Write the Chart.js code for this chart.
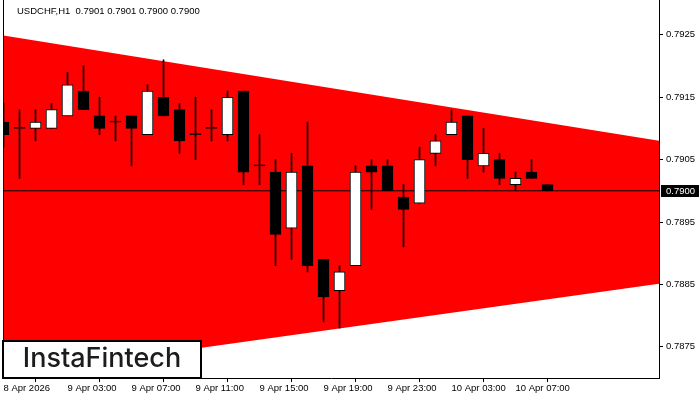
<!DOCTYPE html>
<html>
<head>
<meta charset="utf-8">
<script src="https://cdn.jsdelivr.net/npm/chart.js@4"></script>
<style>
  html, body { margin: 0; padding: 0; background: #fff; }
  #wrap { width: 700px; height: 400px; }
</style>
</head>
<body>
<div id="wrap"><canvas id="chart" width="700" height="400"></canvas></div>
<script>
// USDCHF H1 candles, 8 Apr 23:00 .. 10 Apr 09:00
const symbol = 'USDCHF,H1';
const opens  = [0.7911, 0.7910, 0.7910, 0.7910, 0.7912, 0.7916, 0.7912, 0.7911, 0.7912, 0.7909,
                0.7915, 0.7913, 0.7909, 0.7910, 0.7909, 0.7916, 0.7904, 0.7903, 0.7894, 0.7904,
                0.7889, 0.7884, 0.7888, 0.7904, 0.7904, 0.7899, 0.7898, 0.7906, 0.7909, 0.7912,
                0.7904, 0.7905, 0.7901, 0.7903, 0.7901];
const highs  = [0.7914, 0.7913, 0.7913, 0.7914, 0.7919, 0.7920, 0.7915, 0.7912, 0.7912, 0.7917,
                0.7921, 0.7914, 0.7915, 0.7913, 0.7916, 0.7916, 0.7909, 0.7905, 0.7906, 0.7911,
                0.7889, 0.7888, 0.7904, 0.7905, 0.7905, 0.7901, 0.7907, 0.7909, 0.7913, 0.7912,
                0.7910, 0.7906, 0.7903, 0.7905, 0.7901];
const lows   = [0.7907, 0.7902, 0.7908, 0.7910, 0.7912, 0.7913, 0.7909, 0.7908, 0.7904, 0.7909,
                0.7912, 0.7906, 0.7905, 0.7908, 0.7908, 0.7901, 0.7901, 0.7888, 0.7889, 0.7887,
                0.7879, 0.7878, 0.7888, 0.7897, 0.7900, 0.7891, 0.7898, 0.7904, 0.7909, 0.7902,
                0.7903, 0.7901, 0.7900, 0.7902, 0.7900];
const closes = [0.7909, 0.7910, 0.7911, 0.7913, 0.7917, 0.7913, 0.7910, 0.7911, 0.7910, 0.7916,
                0.7912, 0.7908, 0.7909, 0.7910, 0.7915, 0.7903, 0.7904, 0.7893, 0.7903, 0.7888,
                0.7883, 0.7887, 0.7903, 0.7903, 0.7900, 0.7897, 0.7905, 0.7908, 0.7911, 0.7905,
                0.7906, 0.7902, 0.7902, 0.7902, 0.7900];

// symmetrical triangle borders (bar index -> price)
const patternIdx    = [0, 41];
const patternTop    = [0.79249, 0.79080];
const patternBottom = [0.78704, 0.78851];

const xTickIdx    = [0, 4, 8, 12, 16, 20, 24, 28, 32];
const xTickLabels = ['8 Apr 2026', '9 Apr 03:00', '9 Apr 07:00', '9 Apr 11:00', '9 Apr 15:00',
                     '9 Apr 19:00', '9 Apr 23:00', '10 Apr 03:00', '10 Apr 07:00'];
const yTicks = [0.7875, 0.7885, 0.7895, 0.7905, 0.7915, 0.7925];

const lastPrice = closes[closes.length - 1];
const axisFont = { family: '"Liberation Sans", Arial, sans-serif', size: 9.5 };

const bodies = opens.map((o, i) => ({ x: i, y: [o, closes[i]] }));
const wicks  = opens.map((o, i) => ({ x: i, y: [lows[i], highs[i]] }));
const bodyColors = opens.map((o, i) => closes[i] > o ? '#ffffff' : '#000000');

// no label padding: the plot runs to the canvas edges
function noPadding(scale) {
    scale.paddingTop = 0;
    scale.paddingBottom = 0;
    scale.paddingLeft = 0;
    scale.paddingRight = 0;
}

const overlay = {
    id: 'overlay',
    afterDraw(chart) {
        const { ctx, chartArea, scales } = chart;
        const last = opens.length - 1;
        ctx.save();
        ctx.font = '9.5px "Liberation Sans", Arial, sans-serif';
        ctx.textBaseline = 'middle';
        ctx.textAlign = 'left';

        // header
        ctx.fillStyle = '#000';
        const header = symbol + '  ' + [opens[last], highs[last], lows[last], closes[last]]
            .map(v => v.toFixed(4)).join(' ');
        ctx.fillText(header, 17, 11);

        // current price tag on the axis
        const py = Math.round(scales.y.getPixelForValue(lastPrice));
        ctx.fillRect(chartArea.right + 2, py - 6, 38, 12);
        ctx.fillStyle = '#fff';
        ctx.fillText(lastPrice.toFixed(4), chartArea.right + 7, py + 0.5);

        // logo
        ctx.fillStyle = '#fff';
        ctx.fillRect(3, 341, 198, 37);
        ctx.strokeStyle = '#000';
        ctx.lineWidth = 2;
        ctx.strokeRect(3, 341, 198, 37);
        ctx.fillStyle = '#1c1c1c';
        ctx.font = '500 27px Inter, "Noto Sans", sans-serif';
        ctx.textAlign = 'center';
        ctx.fillText('InstaFintech', 102, 359);
        ctx.restore();
    }
};

new Chart(document.getElementById('chart'), {
    type: 'bar',
    data: {
        datasets: [
            {
                type: 'bar',
                label: 'body',
                data: bodies,
                grouped: false,
                barThickness: 11,
                minBarLength: 1,
                backgroundColor: bodyColors,
                borderColor: '#000',
                borderWidth: 1,
                borderSkipped: false,
                order: 1
            },
            {
                type: 'bar',
                label: 'wick',
                data: wicks,
                grouped: false,
                barThickness: 1,
                backgroundColor: '#000',
                borderWidth: 0,
                order: 2
            },
            {
                type: 'line',
                label: 'price',
                data: patternIdx.map(x => ({ x, y: lastPrice })),
                borderColor: '#000',
                borderWidth: 1,
                pointRadius: 0,
                fill: false,
                order: 5
            },
            {
                type: 'line',
                label: 'top',
                data: patternIdx.map((x, i) => ({ x, y: patternTop[i] })),
                borderWidth: 0,
                borderColor: 'rgba(0,0,0,0)',
                backgroundColor: '#ff0000',
                pointRadius: 0,
                fill: '+1',
                order: 10
            },
            {
                type: 'line',
                label: 'bottom',
                data: patternIdx.map((x, i) => ({ x, y: patternBottom[i] })),
                borderWidth: 0,
                borderColor: 'rgba(0,0,0,0)',
                pointRadius: 0,
                fill: false,
                order: 11
            }
        ]
    },
    options: {
        responsive: false,
        animation: false,
        layout: { padding: 0 },
        plugins: {
            legend: { display: false },
            tooltip: { enabled: false }
        },
        scales: {
            x: {
                type: 'linear',
                position: 'bottom',
                offset: false,
                min: -1 / 32,
                max: 41 - 1 / 32,
                afterBuildTicks: (scale) => { scale.ticks = xTickIdx.map(v => ({ value: v })); },
                afterFit: (scale) => { scale.height = 22; noPadding(scale); },
                ticks: {
                    autoSkip: false,
                    maxRotation: 0,
                    align: 'start',
                    padding: 1,
                    color: '#000',
                    font: axisFont,
                    callback: (v) => xTickLabels[xTickIdx.indexOf(v)]
                },
                grid: { drawOnChartArea: false, drawTicks: true, tickLength: 4, color: '#000' },
                border: { display: true, color: '#000', width: 1 }
            },
            y: {
                type: 'linear',
                position: 'right',
                min: 0.78700,
                max: 0.793058,
                afterBuildTicks: (scale) => { scale.ticks = yTicks.map(v => ({ value: v })); },
                afterFit: (scale) => { scale.width = 41; noPadding(scale); },
                ticks: {
                    padding: 3,
                    color: '#000',
                    font: axisFont,
                    callback: (v) => v.toFixed(4)
                },
                grid: { drawOnChartArea: false, drawTicks: true, tickLength: 4, color: '#000' },
                border: { display: true, color: '#000', width: 1 }
            },
            yLeft: {
                type: 'linear',
                position: 'left',
                min: 0.78700,
                max: 0.793058,
                afterFit: (scale) => { scale.width = 3; noPadding(scale); },
                ticks: { display: false },
                grid: { drawOnChartArea: false, drawTicks: false },
                border: { display: true, color: '#000', width: 1 }
            }
        }
    },
    plugins: [overlay]
});
</script>
</body>
</html>
